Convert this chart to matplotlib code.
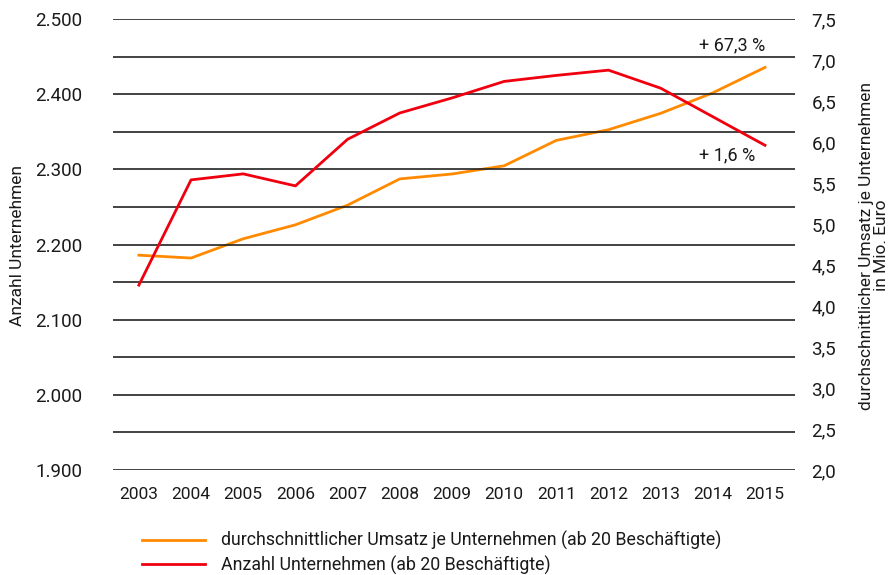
import matplotlib.pyplot as plt
from matplotlib.ticker import FixedLocator, FuncFormatter

plt.rcParams['font.family'] = ['Liberation Sans Narrow', 'DejaVu Sans Condensed', 'Roboto', 'DejaVu Sans']

years = [2003, 2004, 2005, 2006, 2007, 2008, 2009, 2010, 2011, 2012, 2013, 2014, 2015]
anzahl = [2146, 2286, 2294, 2278, 2340, 2375, 2395, 2417, 2425, 2432, 2408, 2370, 2332]
umsatz = [4.62, 4.585, 4.82, 4.99, 5.23, 5.55, 5.61, 5.71, 6.02, 6.15, 6.35, 6.60, 6.91]

left_ticks = [1900, 2000, 2100, 2200, 2300, 2400, 2500]
right_ticks = [2.0, 2.5, 3.0, 3.5, 4.0, 4.5, 5.0, 5.5, 6.0, 6.5, 7.0, 7.5]

label_umsatz = 'durchschnittlicher Umsatz je Unternehmen (ab 20 Beschäftigte)'
label_anzahl = 'Anzahl Unternehmen (ab 20 Beschäftigte)'

orange = '#FF8A00'
red = '#F0000F'
txt = '#1a1a1a'

fig = plt.figure(figsize=(8.95, 5.75), dpi=100)
ax = fig.add_axes([0.126, 0.1826, 0.762, 0.7843])
ax2 = ax.twinx()

# gridlines every 50 on left axis
for v in range(1900, 2501, 50):
    ax.axhline(v, color='#222222', lw=1.2, zorder=0)

ax.set_ylim(1900, 2500)
ax.set_xlim(2002.5, 2015.57)
ax2.set_ylim(2.0, 7.5)

ax.yaxis.set_major_locator(FixedLocator(left_ticks))
ax.yaxis.set_major_formatter(FuncFormatter(lambda v, p: f'{int(v):,}'.replace(',', '.')))
ax2.yaxis.set_major_locator(FixedLocator(right_ticks))
ax2.yaxis.set_major_formatter(FuncFormatter(lambda v, p: f'{v:.1f}'.replace('.', ',')))
ax.set_xticks(years)
ax.set_xticklabels([str(y) for y in years])

for a in (ax, ax2):
    for s in a.spines.values():
        s.set_visible(False)
    a.tick_params(length=0, labelsize=13.5, colors=txt)
ax.tick_params(axis='y', pad=22)
ax.tick_params(axis='x', pad=12, labelsize=12.5)
ax2.tick_params(axis='y', pad=12)

l2, = ax2.plot(years, umsatz, color=orange, lw=2, label=label_umsatz, zorder=3)
l1, = ax.plot(years, anzahl, color=red, lw=2, label=label_anzahl, zorder=3)
ax.set_zorder(ax2.get_zorder() + 1)
ax.patch.set_visible(False)

fig.text(0.019, 0.573, 'Anzahl Unternehmen', rotation=90, ha='center', va='center',
         fontsize=12.5, color=txt)
fig.text(0.976, 0.573, 'durchschnittlicher Umsatz je Unternehmen\nin Mio. Euro',
         rotation=90, ha='center', va='center', fontsize=12.5, color=txt,
         multialignment='center', linespacing=1.0)

ax2.text(2015.0, 7.18, '+ 67,3 %', ha='right', va='center', fontsize=13, color=txt)
ax2.text(2014.82, 5.84, '+ 1,6 %', ha='right', va='center', fontsize=13, color=txt)

fig.legend([l2, l1], [label_umsatz, label_anzahl], loc='upper left',
           bbox_to_anchor=(0.159, 0.076), frameon=False, fontsize=12.8,
           handlelength=3.5, handletextpad=0.95, labelspacing=0.28,
           borderaxespad=0, borderpad=0, labelcolor=txt)

fig.savefig('out.png', dpi=100)
